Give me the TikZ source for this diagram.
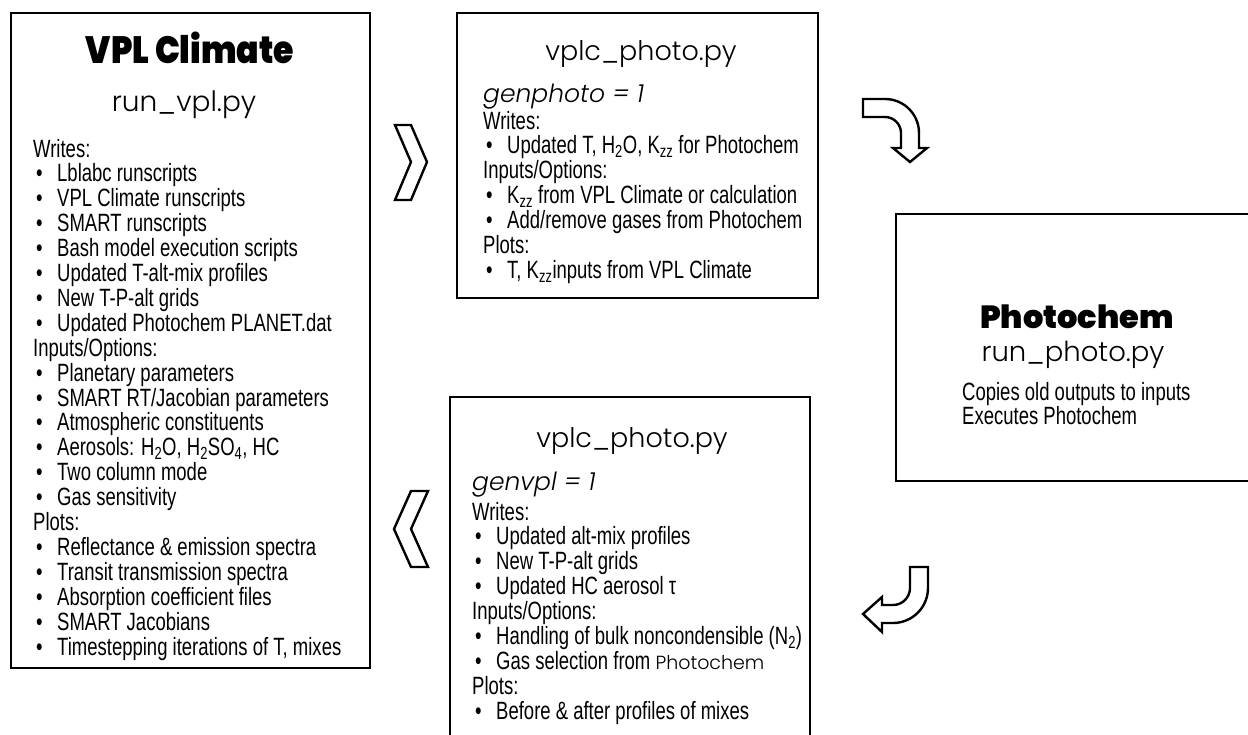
\documentclass[tikz,border=0pt]{standalone}
\usepackage{fontspec}
\setmainfont{Liberation Sans}[FakeStretch=0.74]
\newfontfamily\lightfont{Poppins Light}[ItalicFont={Poppins Light Italic}]
\newfontfamily\heavyfont{Poppins Black}
\newfontfamily\heavynarrow{Poppins Black}[FakeStretch=0.87]
\newcommand\bodyfont{\fontsize{25}{24.9}\selectfont}
\newcommand\itm{\hspace*{3pt}\makebox[21pt][l]{\textbullet}}
\begin{document}
\begin{tikzpicture}[x=1pt,y=-1pt]
\tikzset{
 box/.style={draw, line width=2.8pt, rectangle, inner sep=0pt},
 heavy/.style={font=\heavyfont\fontsize{32}{36}\selectfont, inner sep=0pt, anchor=base},
 light/.style={font=\lightfont\fontsize{27}{30}\selectfont, inner sep=0pt, anchor=base},
 lightit/.style={font=\lightfont\itshape\fontsize{25}{28}\selectfont, inner sep=0pt, anchor=base west},
 body/.style={inner sep=0pt, anchor=base west, font=\bodyfont},
 arrowshape/.style={draw, line width=2.4pt, line join=miter, fill=white}
}
\useasboundingbox (0,0) rectangle (1248,734);
\begin{scope}
\clip (0,0) rectangle (1248,734);
\node[box, minimum width=359pt, minimum height=655pt] (vplbox) at (190.5,340.5) {};
\node[box, minimum width=361pt, minimum height=285pt] (genphotobox) at (637.5,155.5) {};
\node[box, minimum width=360pt, minimum height=348pt] (genvplbox) at (630,571) {};
\node[box, minimum width=364pt, minimum height=267pt] (photobox) at (1078,347.5) {};
\end{scope}

% left box text
\node[heavy, font=\heavynarrow\fontsize{38}{40}\selectfont] (vpltitle) at (190,63) {VPL Climate};
\node[light, font=\lightfont\fontsize{28}{30}\selectfont] (vplscript) at (184,111) {run\_vpl.py};
\node[body] (vplbody) at (33,157) {\parbox[t]{330pt}{\bodyfont\lineskiplimit=-100pt
Writes:\\
\itm Lblabc runscripts\\
\itm VPL Climate runscripts\\
\itm SMART runscripts\\
\itm Bash model execution scripts\\
\itm Updated T-alt-mix profiles\\
\itm New T-P-alt grids\\
\itm Updated Photochem PLANET.dat\\
Inputs/Options:\\
\itm Planetary parameters\\
\itm SMART RT/Jacobian parameters\\
\itm Atmospheric constituents\\
\itm Aerosols: H\textsubscript{2}O, H\textsubscript{2}SO\textsubscript{4}, HC\\
\itm Two column mode\\
\itm Gas sensitivity\\
Plots:\\
\itm Reflectance \& emission spectra\\
\itm Transit transmission spectra\\
\itm Absorption coefficient files\\
\itm SMART Jacobians\\
\itm Timestepping iterations of T, mixes}};

% top middle box text
\node[light] (gpscript) at (641,60) {vplc\_photo.py};
\node[lightit] (gpflag) at (483,102) {genphoto = 1};
\node[body] (gpbody) at (483,129) {\parbox[t]{330pt}{\bodyfont\lineskiplimit=-100pt
Writes:\\
\itm Updated T, H\textsubscript{2}O, K\textsubscript{zz} for Photochem\\
Inputs/Options:\\
\itm K\textsubscript{zz} from VPL Climate or calculation\\
\itm Add/remove gases from Photochem\\
Plots:\\
\itm T, K\textsubscript{zz}inputs from VPL Climate}};

% bottom middle box text
\node[light] (gvscript) at (632,447) {vplc\_photo.py};
\node[lightit] (gvflag) at (472,490) {genvpl = 1};
\node[body] (gvbody) at (472,520) {\parbox[t]{330pt}{\bodyfont\lineskiplimit=-100pt
Writes:\\
\itm Updated alt-mix profiles\\
\itm New T-P-alt grids\\
\itm Updated HC aerosol τ\\
Inputs/Options:\\
\itm Handling of bulk noncondensible (N\textsubscript{2})\\
\itm Gas selection from {\lightfont\fontsize{19}{24.9}\selectfont Photochem}\\
Plots:\\
\itm Before \& after profiles of mixes}};

% right box text
\node[heavy] (phtitle) at (1077,328) {Photochem};
\node[light, font=\lightfont\fontsize{27.5}{30}\selectfont] (phscript) at (1073,361) {run\_photo.py};
\node[body] (phbody) at (962,400) {\parbox[t]{260pt}{\fontsize{25}{24}\selectfont\lineskiplimit=-100pt
Copies old outputs to inputs\\
Executes Photochem}};

% chevrons
\draw[arrowshape] (395,125) -- (411,125) -- (427,162) -- (411,200) -- (395,200) -- (411,162) -- cycle;
\draw[arrowshape] (411,491) -- (428,491) -- (411,529) -- (428,567) -- (411,567) -- (394,529) -- cycle;

% curved arrows
\draw[arrowshape] (863,99) -- (885,99) .. controls (903.8,99) and (919,114.2) .. (919,133)
  -- (919,148) -- (927,148) -- (910,162) -- (893,148) -- (901,148) -- (901,133)
  .. controls (901,124.2) and (893.8,117) .. (885,117) -- (863,117) -- cycle;
\draw[arrowshape] (910,567) -- (928,567) -- (928,588) .. controls (928,607.3) and (912.3,623) .. (893,623)
  -- (882,623) -- (882,632) -- (863,614) -- (882,597) -- (882,605) -- (893,605)
  .. controls (902.4,605) and (910,597.4) .. (910,588) -- cycle;
\end{tikzpicture}
\end{document}
